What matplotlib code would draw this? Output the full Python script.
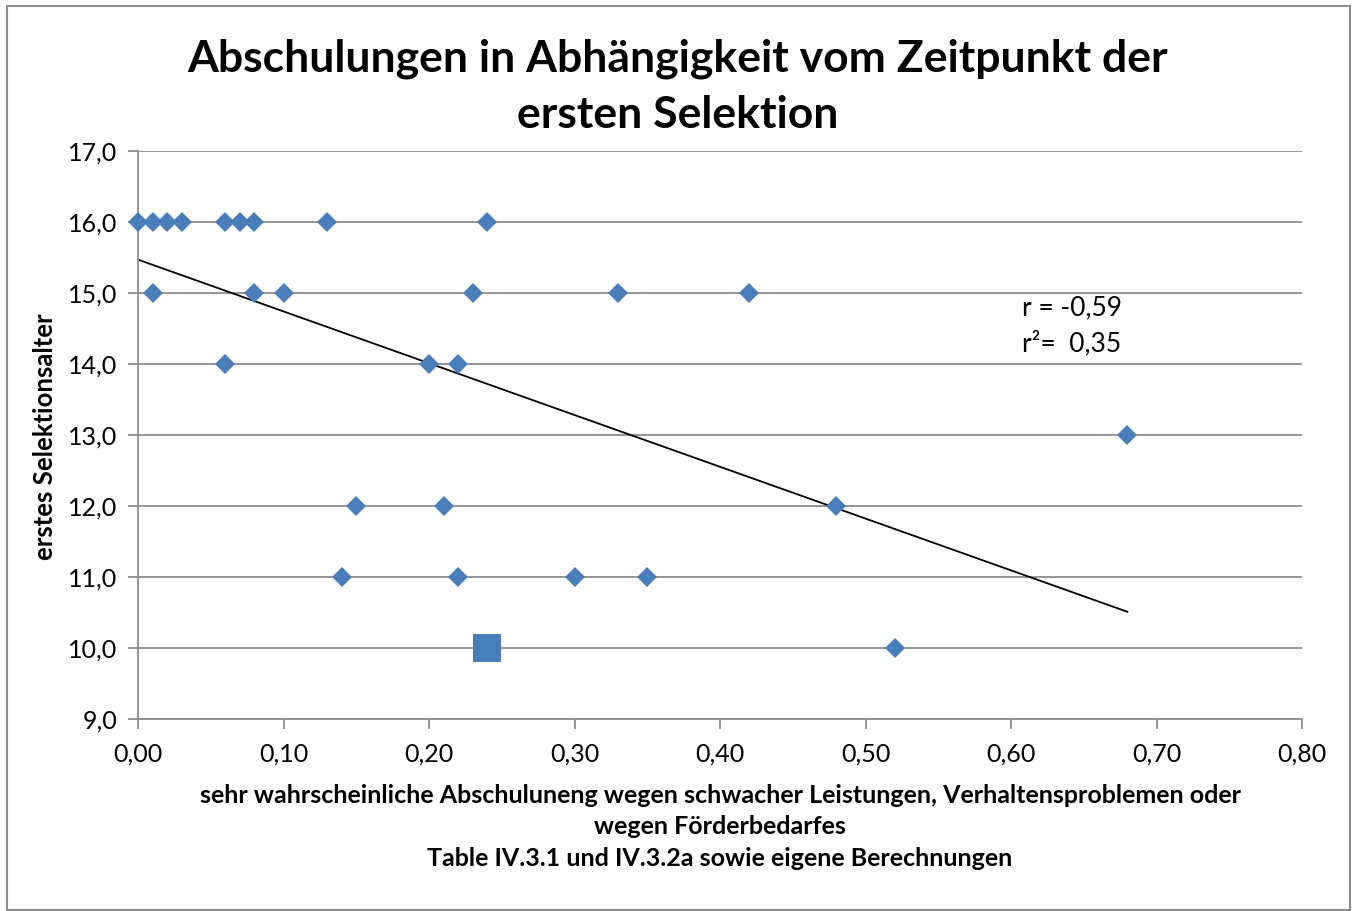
import matplotlib
matplotlib.use("Agg")
import matplotlib.pyplot as plt
from matplotlib.ticker import FuncFormatter, MultipleLocator
from matplotlib.patches import Rectangle

plt.rcParams['font.family'] = ['Lato', 'DejaVu Sans']

# Data
x_vals = [0.00, 0.01, 0.02, 0.03, 0.06, 0.07, 0.08, 0.13, 0.24,
          0.01, 0.08, 0.10, 0.23, 0.33, 0.42,
          0.06, 0.20, 0.22,
          0.68,
          0.15, 0.21, 0.48,
          0.14, 0.22, 0.30, 0.35,
          0.52]
y_vals = [16, 16, 16, 16, 16, 16, 16, 16, 16,
          15, 15, 15, 15, 15, 15,
          14, 14, 14,
          13,
          12, 12, 12,
          11, 11, 11, 11,
          10]
highlight_x = [0.24]
highlight_y = [10]
trend_x = [0.0, 0.68]
trend_y = [15.47, 10.51]

title = "Abschulungen in Abhängigkeit vom Zeitpunkt der\nersten Selektion"
xlabel = ("sehr wahrscheinliche Abschuluneng wegen schwacher Leistungen, Verhaltensproblemen oder\n"
          "wegen Förderbedarfes\nTable IV.3.1 und IV.3.2a sowie eigene Berechnungen")
ylabel = "erstes Selektionsalter"
annot = "r = -0,59\nr²=  0,35"

W, H = 1355, 911
fig = plt.figure(figsize=(W / 100, H / 100), dpi=100)
ax = fig.add_axes([138 / W, 1 - 719 / H, (1302 - 138) / W, (719 - 151) / H])

blue = '#4A7EBB'
grid_c = '#8C8C8C'

ax.plot(trend_x, trend_y, color='black', lw=1.3, zorder=2)
ax.plot(x_vals, y_vals, linestyle='none', marker='D', ms=10, color=blue,
        markeredgewidth=0, zorder=3, clip_on=False)
ax.plot(highlight_x, highlight_y, linestyle='none', marker='s', ms=20, color=blue,
        markeredgewidth=0, zorder=3)

ax.set_xlim(0, 0.8)
ax.set_ylim(9, 17)
ax.xaxis.set_major_locator(MultipleLocator(0.1))
ax.yaxis.set_major_locator(MultipleLocator(1))
ax.xaxis.set_major_formatter(FuncFormatter(lambda v, p: f"{v:.2f}".replace('.', ',')))
ax.yaxis.set_major_formatter(FuncFormatter(lambda v, p: f"{v:.1f}".replace('.', ',')))

ax.grid(axis='y', color=grid_c, lw=1.3, zorder=1)
ax.set_axisbelow(True)
for s in ['top', 'right']:
    ax.spines[s].set_visible(False)
for s in ['left', 'bottom']:
    ax.spines[s].set_color(grid_c)
    ax.spines[s].set_linewidth(1.3)
ax.tick_params(axis='both', direction='out', length=7, width=1.3, color=grid_c,
               labelsize=18, labelcolor='black')
ax.tick_params(axis='x', pad=10)
ax.tick_params(axis='y', pad=8)

fig.text(678 / W, 1 - 87 / H, title, ha='center', va='center', fontsize=32,
         fontweight='bold', linespacing=1.47)
fig.text(720 / W, 1 - 827 / H, xlabel, ha='center', va='center', fontsize=18,
         fontweight='bold', linespacing=1.47)
fig.text(45 / W, 1 - 437 / H, ylabel, ha='center', va='center', fontsize=18.5,
         fontweight='bold', rotation=90)
fig.text(1022 / W, 1 - 326 / H, annot, ha='left', va='center', fontsize=19,
         linespacing=1.5)

fig.patches.append(Rectangle((7 / W, 0.001), (1350 - 7) / W, 1 - 6 / H - 0.001,
                             transform=fig.transFigure, fill=False,
                             edgecolor='#8C8C8C', lw=1.5))

fig.savefig('out.png', dpi=100)
